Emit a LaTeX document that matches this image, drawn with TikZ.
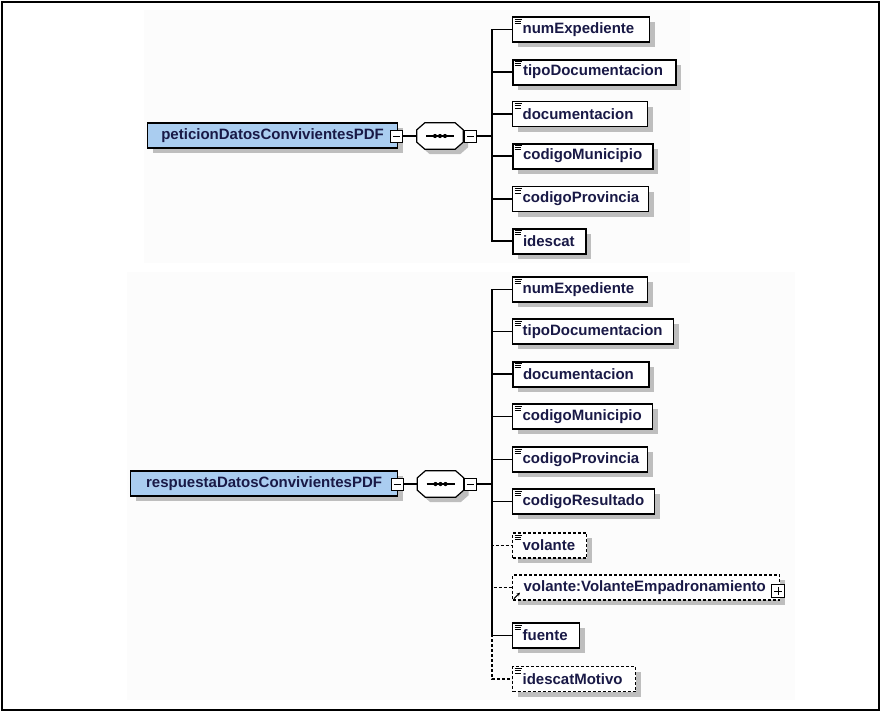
\documentclass[tikz,border=0pt]{standalone}
\usepackage{fontspec}
\setmainfont{Liberation Sans}
\usetikzlibrary{shadows,arrows.meta}
\definecolor{rootblue}{RGB}{170,205,240}
\definecolor{shadowc}{RGB}{190,190,190}
\definecolor{txt}{RGB}{25,25,70}
\definecolor{panelc}{RGB}{252,252,252}
\newcommand\octpath[1]{([xshift=8pt]#1.north west) -- ([xshift=-8pt]#1.north east) -- ([yshift=-7pt]#1.north east) -- ([yshift=7pt]#1.south east) -- ([xshift=-8pt]#1.south east) -- ([xshift=8pt]#1.south west) -- ([yshift=7pt]#1.south west) -- ([yshift=-7pt]#1.north west) -- cycle}
\newcommand\octa[1]{%
  \fill[shadowc, transform canvas={shift={(5pt,-5pt)}}] \octpath{#1};
  \draw[line width=1.2pt, fill=white] \octpath{#1};
  \draw[line width=1.3pt] ([xshift=-14pt]#1.center) -- ([xshift=14pt]#1.center);
  \fill ([xshift=-5pt]#1.center) circle (2.1pt);
  \fill (#1.center) circle (2.1pt);
  \fill ([xshift=5pt]#1.center) circle (2.1pt);
}
\newcommand\kid[5][]{%
  \node[kidbox,#1,text width=#4pt] (#2) at (512,-#3) {\hspace*{10pt}#5};
  \draw[icon] ([xshift=2.5pt,yshift=-2.6pt]#2.north west) -- ++(7pt,0pt);
  \draw[icon] ([xshift=2.5pt,yshift=-4.9pt]#2.north west) -- ++(6pt,0pt);
  \draw[icon] ([xshift=2.5pt,yshift=-7.2pt]#2.north west) -- ++(6pt,0pt);
}
\begin{document}
\begin{tikzpicture}[x=1pt,y=1pt,
  shad/.style={drop shadow={shadow xshift=5pt,shadow yshift=-5pt,fill=shadowc,opacity=1}},
  kidbox/.style={draw=black, line width=1.2pt, fill=white, shad, minimum height=25pt,
    inner xsep=0pt, inner ysep=0pt, anchor=west, align=left,
    font=\fontsize{15}{18}\selectfont\bfseries, text=txt},
  boldbox/.style={line width=2pt},
  optbox/.style={dash pattern=on 3pt off 2pt},
  rootbox/.style={draw=black, line width=1.2pt, fill=rootblue, shad, minimum height=25pt,
    inner sep=0pt, anchor=west, font=\fontsize{15}{18}\selectfont\bfseries, text=txt},
  pm/.style={draw=black, line width=1pt, fill=white, minimum size=12pt, inner sep=0pt,
    path picture={\draw[line width=1pt] ([xshift=2.5pt]path picture bounding box.west) -- ([xshift=-2.5pt]path picture bounding box.east);}},
  plusbox/.style={draw=black, line width=1pt, fill=white, minimum size=13pt, inner sep=0pt,
    path picture={\draw[line width=1pt] ([xshift=2.5pt]path picture bounding box.west) -- ([xshift=-2.5pt]path picture bounding box.east);
      \draw[line width=1pt] ([yshift=-2.5pt]path picture bounding box.north) -- ([yshift=2.5pt]path picture bounding box.south);}},
  seqbox/.style={minimum width=46pt, minimum height=26pt, inner sep=0pt},
  conn/.style={line width=1.2pt},
  optconn/.style={line width=1.2pt, dash pattern=on 3pt off 2pt},
  icon/.style={line width=0.9pt, line cap=butt}]
\useasboundingbox (0,0) rectangle (880,-713);
% panels and frame
\fill[panelc] (144,-10) rectangle (690,-263);
\fill[panelc] (127,-272) rectangle (795,-700);
\draw[line width=2pt] (1.5,-1.5) rectangle (878.5,-709.5);

% ---------- top: peticion ----------
\node[rootbox, minimum width=250pt] (r1) at (147,-135.5) {peticionDatosConvivientesPDF};
\node[pm] (m1) at (396,-136) {};
\node[seqbox] (s1) at (440,-136) {};
\octa{s1}
\node[pm] (m2) at (470.5,-136) {};
\coordinate (j1) at (492,-136);

\kid{t1}{29.5}{137}{numExpediente}
\kid[boldbox]{t2}{72}{163}{tipoDocumentacion}
\kid{t3}{114}{135}{documentacion}
\kid[boldbox]{t4}{156}{140}{codigoMunicipio}
\kid{t5}{199}{136}{codigoProvincia}
\kid[boldbox]{t6}{241}{73}{idescat}

\draw[conn] (m1.east) -- (s1.west);
\draw[conn] (m2.east) -- (j1);
\foreach \k in {t1,t2,t3,t4,t5,t6} \draw[conn] (j1) |- (\k.west);

% ---------- bottom: respuesta ----------
\node[rootbox, minimum width=267pt] (r2) at (130,-483.5) {respuestaDatosConvivientesPDF};
\node[pm] (m3) at (397,-484) {};
\node[seqbox] (s2) at (440.5,-484) {};
\octa{s2}
\node[pm] (m4) at (470,-484) {};
\coordinate (j2) at (492,-484);

\kid{b1}{289.5}{135}{numExpediente}
\kid{b2}{331.5}{161}{tipoDocumentacion}
\kid[boldbox]{b3}{374}{136}{documentacion}
\kid{b4}{416.5}{140}{codigoMunicipio}
\kid{b5}{459.5}{135}{codigoProvincia}
\kid{b6}{501.5}{142}{codigoResultado}
\kid[optbox]{b7}{545.5}{74}{volante}
\node[kidbox, optbox, text width=267pt] (b8) at (512,-587.5) {\hspace*{11pt}volante:VolanteEmpadronamiento};
\draw[line width=1pt, -{Stealth[length=3.5pt,width=3.5pt]}] ([xshift=2pt,yshift=2pt]b8.south west) -- ++(6pt,6pt);
\node[plusbox] (p1) at (778,-591) {};
\kid{b9}{635.5}{67}{fuente}
\kid[optbox]{b10}{679}{123}{idescatMotivo}

\draw[conn] (m3.east) -- (s2.west);
\draw[conn] (m4.east) -- (j2);
\foreach \k in {b1,b2,b3,b4,b5,b6,b9} \draw[conn] (j2) |- (\k.west);
\foreach \k in {b7,b8,b10} \draw[optconn] (j2) |- (\k.west);
\end{tikzpicture}
\end{document}
